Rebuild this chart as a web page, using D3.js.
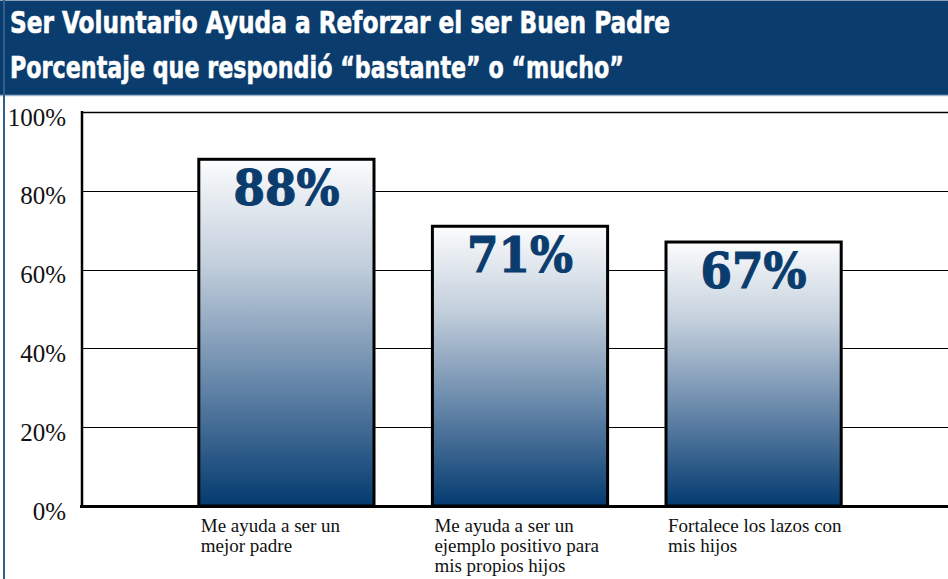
<!DOCTYPE html>
<html><head><meta charset="utf-8">
<script src="https://cdn.jsdelivr.net/npm/d3@7"></script>
<style>body{margin:0;background:#fff}svg{display:block}</style>
</head><body>
<script>
const titleLines = ["Ser Voluntario Ayuda a Reforzar el ser Buen Padre", "Porcentaje que respondió “bastante” o “mucho”"];
const categories = ["cat1", "cat2", "cat3"];
const categoryLabels = [["Me ayuda a ser un", "mejor padre"], ["Me ayuda a ser un", "ejemplo positivo para", "mis propios hijos"], ["Fortalece los lazos con", "mis hijos"]];
const values = [88, 71, 67];
const yTicks = [0, 20, 40, 60, 80, 100];

const W = 948, H = 579;
const svg = d3.select("body").append("svg").attr("width", W).attr("height", H);

const defs = svg.append("defs");
const grad = defs.append("linearGradient").attr("id", "barGrad").attr("x1", 0).attr("y1", 0).attr("x2", 0).attr("y2", 1);
grad.append("stop").attr("offset", "0%").attr("stop-color", "#fbfcfd");
grad.append("stop").attr("offset", "30%").attr("stop-color", "#c3cfdc");
grad.append("stop").attr("offset", "65%").attr("stop-color", "#6485a8");
grad.append("stop").attr("offset", "100%").attr("stop-color", "#033a6f");

// header
svg.append("rect").attr("x", 0).attr("y", 0).attr("width", W).attr("height", 95).attr("fill", "#0a3c6d");
svg.append("line").attr("x1", 0).attr("x2", W).attr("y1", 95.5).attr("y2", 95.5).attr("stroke", "#9fb6cf").attr("stroke-width", 1.5);
svg.append("line").attr("x1", 0).attr("x2", W).attr("y1", 0.5).attr("y2", 0.5).attr("stroke", "#8aa0b8").attr("stroke-width", 1);
svg.append("line").attr("x1", 4).attr("x2", 4).attr("y1", 0).attr("y2", H).attr("stroke", "#2f5f8f").attr("stroke-width", 2);

svg.selectAll("text.title").data(titleLines).enter().append("text")
  .attr("class", "title")
  .attr("x", 10).attr("y", (d, i) => 33 + i * 45)
  .attr("fill", "#fff")
  .attr("stroke", "#fff").attr("stroke-width", 0.6)
  .attr("font-family", "'DejaVu Sans Condensed', 'DejaVu Sans', sans-serif")
  .attr("font-weight", "bold")
  .attr("font-size", 31)
  .attr("textLength", (d, i) => i === 0 ? 660 : 614)
  .attr("lengthAdjust", "spacingAndGlyphs")
  .text(d => d);

// scales
const x = d3.scaleBand().domain(categories).range([82, 958]).paddingInner(0.25).paddingOuter(0.5);
const y = d3.scaleLinear().domain([0, 100]).range([506, 112]);

// gridlines
svg.append("g").selectAll("line").data(yTicks.filter(t => t > 0)).enter().append("line")
  .attr("x1", 82).attr("x2", W).attr("y1", d => Math.round(y(d)) + 0.5).attr("y2", d => Math.round(y(d)) + 0.5)
  .attr("stroke", "#000").attr("stroke-width", d => d === 100 ? 1.6 : 1.2);

// y axis labels
const yAxis = d3.axisLeft(y).tickValues(yTicks).tickFormat(d => d + "%").tickSize(0).tickPadding(0);
const ya = svg.append("g").attr("transform", "translate(66,0)").call(yAxis);
ya.select(".domain").remove();
ya.selectAll("text").attr("font-family", "'Liberation Serif', 'Times New Roman', serif")
  .attr("font-size", 25).attr("fill", "#111").attr("dy", "0.52em");

// bars
svg.append("g").selectAll("rect").data(values).enter().append("rect")
  .attr("x", (d, i) => x(categories[i]))
  .attr("y", d => y(d))
  .attr("width", x.bandwidth())
  .attr("height", d => y(0) - y(d))
  .attr("fill", "url(#barGrad)")
  .attr("stroke", "#000").attr("stroke-width", 3);

// axes lines
svg.append("line").attr("x1", 82).attr("x2", 82).attr("y1", 111).attr("y2", 508).attr("stroke", "#000").attr("stroke-width", 2.5);
svg.append("line").attr("x1", 80).attr("x2", W).attr("y1", 506.5).attr("y2", 506.5).attr("stroke", "#000").attr("stroke-width", 3);

// value labels
svg.append("g").selectAll("text").data(values).enter().append("text")
  .attr("x", (d, i) => x(categories[i]) + x.bandwidth() / 2)
  .attr("y", d => y(d) + 46)
  .attr("text-anchor", "middle")
  .attr("fill", "#0b3c6e")
  .attr("stroke", "#0b3c6e").attr("stroke-width", 1.2)
  .attr("font-family", "'DejaVu Serif', serif")
  .attr("font-weight", "bold")
  .attr("font-size", 49)
  .attr("textLength", 106)
  .attr("lengthAdjust", "spacingAndGlyphs")
  .text(d => d + "%");

// category labels
const cl = svg.append("g").selectAll("text").data(categoryLabels).enter().append("text")
  .attr("x", (d, i) => x(categories[i]) + 2)
  .attr("y", 532)
  .attr("font-family", "'Liberation Serif', 'Times New Roman', serif")
  .attr("font-size", 19).attr("fill", "#111");
cl.selectAll("tspan").data(d => d).enter().append("tspan")
  .attr("x", function() { return d3.select(this.parentNode).attr("x"); })
  .attr("dy", (d, i) => i === 0 ? 0 : 20)
  .text(d => d);
</script>
</body></html>
